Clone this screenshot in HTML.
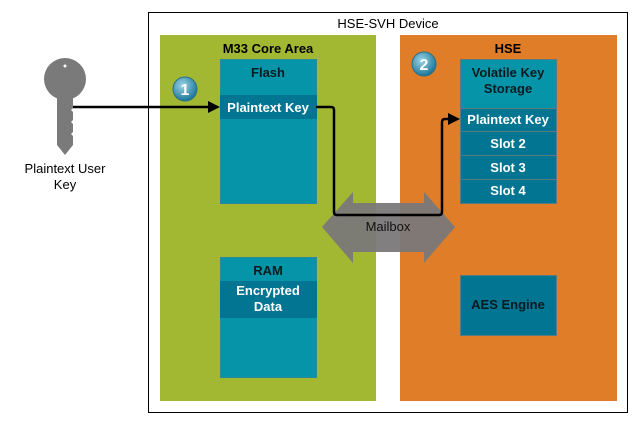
<!DOCTYPE html>
<html><head><style>
body{margin:0;background:#fff;width:635px;height:421px;overflow:hidden;font-family:"Liberation Sans",Arial,sans-serif}
</style></head><body>
<svg width="635" height="421" xmlns="http://www.w3.org/2000/svg" font-family="Liberation Sans, Arial, sans-serif">
<rect x="148.5" y="12.5" width="479" height="400" fill="#fff" stroke="#000" stroke-width="1"/>
<text x="388" y="28" font-size="13" text-anchor="middle" fill="#000">HSE-SVH Device</text>
<rect x="160" y="35" width="216" height="366" fill="#a2b832"/>
<rect x="400" y="35" width="217" height="366" fill="#e07d28"/>
<text x="268" y="53" font-size="13" font-weight="bold" text-anchor="middle">M33 Core Area</text>
<text x="508" y="53" font-size="13" font-weight="bold" text-anchor="middle">HSE</text>
<!-- Flash -->
<rect x="220.5" y="59.5" width="96" height="144" fill="#0695a8" stroke="#2a8a9a"/>
<text x="268" y="77" font-size="13" font-weight="bold" text-anchor="middle" fill="#0a1a20">Flash</text>
<rect x="220" y="95" width="97" height="24" fill="#017591"/>
<text x="268" y="112" font-size="13" font-weight="bold" text-anchor="middle" fill="#fff">Plaintext Key</text>
<!-- RAM -->
<rect x="220.5" y="257.5" width="96" height="120" fill="#0695a8" stroke="#2a8a9a"/>
<text x="268" y="275" font-size="13" font-weight="bold" text-anchor="middle" fill="#0a1a20">RAM</text>
<rect x="220" y="281" width="97" height="37" fill="#017591"/>
<text x="268" y="295" font-size="13" font-weight="bold" text-anchor="middle" fill="#fff">Encrypted</text>
<text x="268" y="311" font-size="13" font-weight="bold" text-anchor="middle" fill="#fff">Data</text>
<!-- Volatile -->
<rect x="460.5" y="59.5" width="96" height="144" fill="#0695a8" stroke="#5a7a80"/>
<text x="508" y="77" font-size="13" font-weight="bold" text-anchor="middle" fill="#0a1a20">Volatile Key</text>
<text x="508" y="93" font-size="13" font-weight="bold" text-anchor="middle" fill="#0a1a20">Storage</text>
<g stroke="#5a7a80" fill="#017591">
<rect x="460.5" y="108.5" width="96" height="23"/>
<rect x="460.5" y="131.5" width="96" height="24"/>
<rect x="460.5" y="155.5" width="96" height="24"/>
<rect x="460.5" y="179.5" width="96" height="24"/>
</g>
<g font-size="13" font-weight="bold" text-anchor="middle" fill="#fff">
<text x="508" y="124">Plaintext Key</text>
<text x="508" y="148">Slot 2</text>
<text x="508" y="172">Slot 3</text>
<text x="508" y="195">Slot 4</text>
</g>
<rect x="460.5" y="275.5" width="96" height="60" fill="#017591" stroke="#5a7a80"/>
<text x="508" y="309" font-size="13" font-weight="bold" text-anchor="middle" fill="#0a1a20">AES Engine</text>
<!-- Mailbox -->
<polygon points="322,227 353,192 353,203 424,203 424,192 455,227 424,263 424,252 353,252 353,263" fill="#7a7878" fill-opacity="0.95"/>
<text x="388" y="231" font-size="13" text-anchor="middle" fill="#111">Mailbox</text>
<!-- connectors -->
<line x1="72" y1="107" x2="210" y2="107" stroke="#000" stroke-width="2.5"/>
<polygon points="208,101 220,107 208,113" fill="#000"/>
<path d="M316,107 H331 Q334,107 334,110 V212 Q334,215 337,215 H439 Q442,215 442,212 V122 Q442,119 445,119 H450" fill="none" stroke="#000" stroke-width="2.5"/>
<polygon points="448,113 460,119 448,125" fill="#000"/>
<!-- numbered circles -->
<defs><radialGradient id="g" cx="40%" cy="35%" r="65%"><stop offset="0" stop-color="#9cd3e6"/><stop offset="1" stop-color="#1c7898"/></radialGradient></defs>
<circle cx="185" cy="89" r="12" fill="url(#g)" stroke="#2a6f88"/>
<text x="185" y="95" font-size="16" font-weight="bold" text-anchor="middle" fill="#fff">1</text>
<circle cx="424" cy="64" r="12" fill="url(#g)" stroke="#2a6f88"/>
<text x="424" y="70" font-size="16" font-weight="bold" text-anchor="middle" fill="#fff">2</text>
<!-- key -->
<circle cx="65" cy="79" r="21" fill="#7a7a7a"/>
<circle cx="65" cy="66" r="1.5" fill="#fff"/>
<path d="M57,95 H73 V108 L71,110 L73,112 V120 L71,122 L73,124 V132 L71,134 L73,136 V145 L65,155 L57,145 Z" fill="#7a7a7a"/>
<text x="65" y="173" font-size="13" text-anchor="middle">Plaintext User</text>
<text x="65" y="189" font-size="13" text-anchor="middle">Key</text>
</svg>
</body></html>
